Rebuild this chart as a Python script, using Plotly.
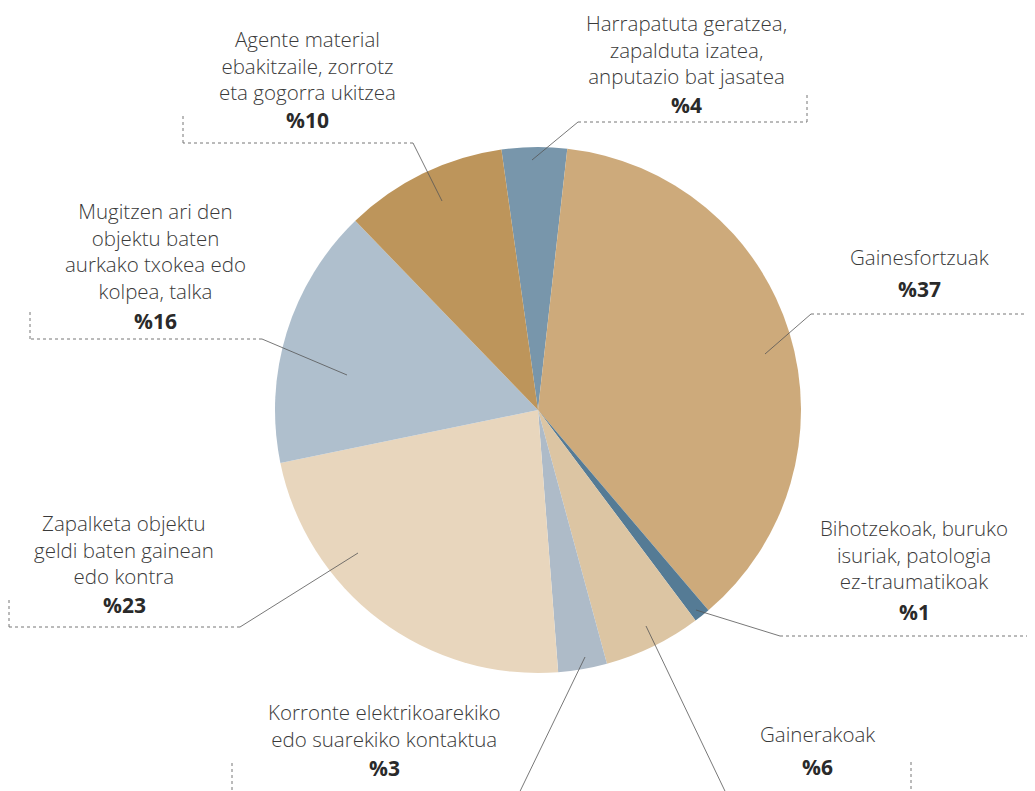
import plotly.graph_objects as go

W, H = 1035, 791
OFF = 8  # page body margin

# Data (clockwise from top)
categories = [
    "Harrapatuta geratzea, zapalduta izatea, anputazio bat jasatea",
    "Gainesfortzuak",
    "Bihotzekoak, buruko isuriak, patologia ez-traumatikoak",
    "Gainerakoak",
    "Korronte elektrikoarekiko edo suarekiko kontaktua",
    "Zapalketa objektu geldi baten gainean edo kontra",
    "Mugitzen ari den objektu baten aurkako txokea edo kolpea, talka",
    "Agente material ebakitzaile, zorrotz eta gogorra ukitzea",
]
values = [4, 37, 1, 6, 3, 23, 16, 10]
pct_labels = ["%4", "%37", "%1", "%6", "%3", "%23", "%16", "%10"]
label_lines = [
    ["Harrapatuta geratzea,", "zapalduta izatea,", "anputazio bat jasatea"],
    ["Gainesfortzuak"],
    ["Bihotzekoak, buruko", "isuriak, patologia", "ez-traumatikoak"],
    ["Gainerakoak"],
    ["Korronte elektrikoarekiko", "edo suarekiko kontaktua"],
    ["Zapalketa objektu", "geldi baten gainean", "edo kontra"],
    ["Mugitzen ari den", "objektu baten", "aurkako txokea edo", "kolpea, talka"],
    ["Agente material", "ebakitzaile, zorrotz", "eta gogorra ukitzea"],
]
colors = ["#7896ab", "#cdaa7b", "#557b95", "#dcc5a3", "#aebbc8", "#e8d6bd", "#afbfcd", "#bd955b"]

# Layout (pixel) positions for labels: center x, first line y, pct y
label_pos = [
    (686, 17, 98),
    (919, 257, 289),
    (914, 530, 612),
    (817, 734, 767),
    (384, 713, 768),
    (124, 525, 605),
    (155, 215, 321),
    (307, 41, 119),
]
# leader lines: inner point, elbow, horizontal end, vertical end y
leaders = [
    ((532, 160), (578, 122), 807, 93),
    ((765, 354), (811, 314), 1050, None),
    ((696, 610), (780, 636), 1050, None),
    ((646, 626), (735, 812), None, None),
    ((585, 657), (510, 812), None, None),
    ((358, 553), (240, 627), 9, 598),
    ((347, 375), (262, 339), 30, 310),
    ((442, 201), (413, 143), 183, 115),
]
extra_ticks = [(232, 763, 810), (911, 762, 810)]

cx, cy, R = 538, 410, 263
FS = 20.5
PFS = 21


def px(x):
    return (x - OFF) / W


def py(y):
    return 1 - (y - OFF) / H


fig = go.Figure()
fig.add_trace(go.Pie(
    labels=categories,
    values=values,
    sort=False,
    direction="clockwise",
    rotation=-8,
    marker=dict(colors=colors, line=dict(width=0)),
    textinfo="none",
    hoverinfo="label+percent",
    showlegend=False,
    domain=dict(x=[px(cx - R), px(cx + R)], y=[py(cy + R), py(cy - R)]),
))

shapes = []
for (p0, p1, hx, vy) in leaders:
    shapes.append(dict(type="line", xref="paper", yref="paper",
                       x0=px(p0[0]), y0=py(p0[1]), x1=px(p1[0]), y1=py(p1[1]),
                       line=dict(color="#555555", width=0.8)))
    if hx is not None:
        shapes.append(dict(type="line", xref="paper", yref="paper",
                           x0=px(p1[0]), y0=py(p1[1]), x1=px(hx), y1=py(p1[1]),
                           line=dict(color="#777777", width=1, dash="dot")))
        if vy is not None:
            shapes.append(dict(type="line", xref="paper", yref="paper",
                               x0=px(hx), y0=py(p1[1]), x1=px(hx), y1=py(vy),
                               line=dict(color="#777777", width=1, dash="dot")))
for (x, y0, y1) in extra_ticks:
    shapes.append(dict(type="line", xref="paper", yref="paper",
                       x0=px(x), y0=py(y0), x1=px(x), y1=py(y1),
                       line=dict(color="#777777", width=1, dash="dot")))

annotations = []
for lines, pct, (x, y0, yp) in zip(label_lines, pct_labels, label_pos):
    n = len(lines)
    half = n * 1.3 * FS / 2
    yc = max(y0 + 24 * (n - 1) / 2, OFF + half + 2)
    bottom = yc + half
    ypct = max(yp, bottom + 1.3 * PFS / 2 + 1)
    annotations.append(dict(text="<br>".join(lines), x=px(x), y=py(yc), xref="paper", yref="paper",
                            xanchor="center", yanchor="middle", showarrow=False, borderpad=0,
                            font=dict(family="Open Sans", size=FS, color="#3a3a3a", weight=300)))
    annotations.append(dict(text=pct, x=px(x), y=py(ypct), xref="paper", yref="paper",
                            xanchor="center", yanchor="middle", showarrow=False, borderpad=0,
                            font=dict(family="Open Sans", size=PFS, color="#2a2a2a", weight=700)))

fig.update_layout(
    width=W, height=H,
    margin=dict(l=0, r=0, t=0, b=0),
    paper_bgcolor="white", plot_bgcolor="white",
    shapes=shapes, annotations=annotations,
)

fig.write_html("out.html")
